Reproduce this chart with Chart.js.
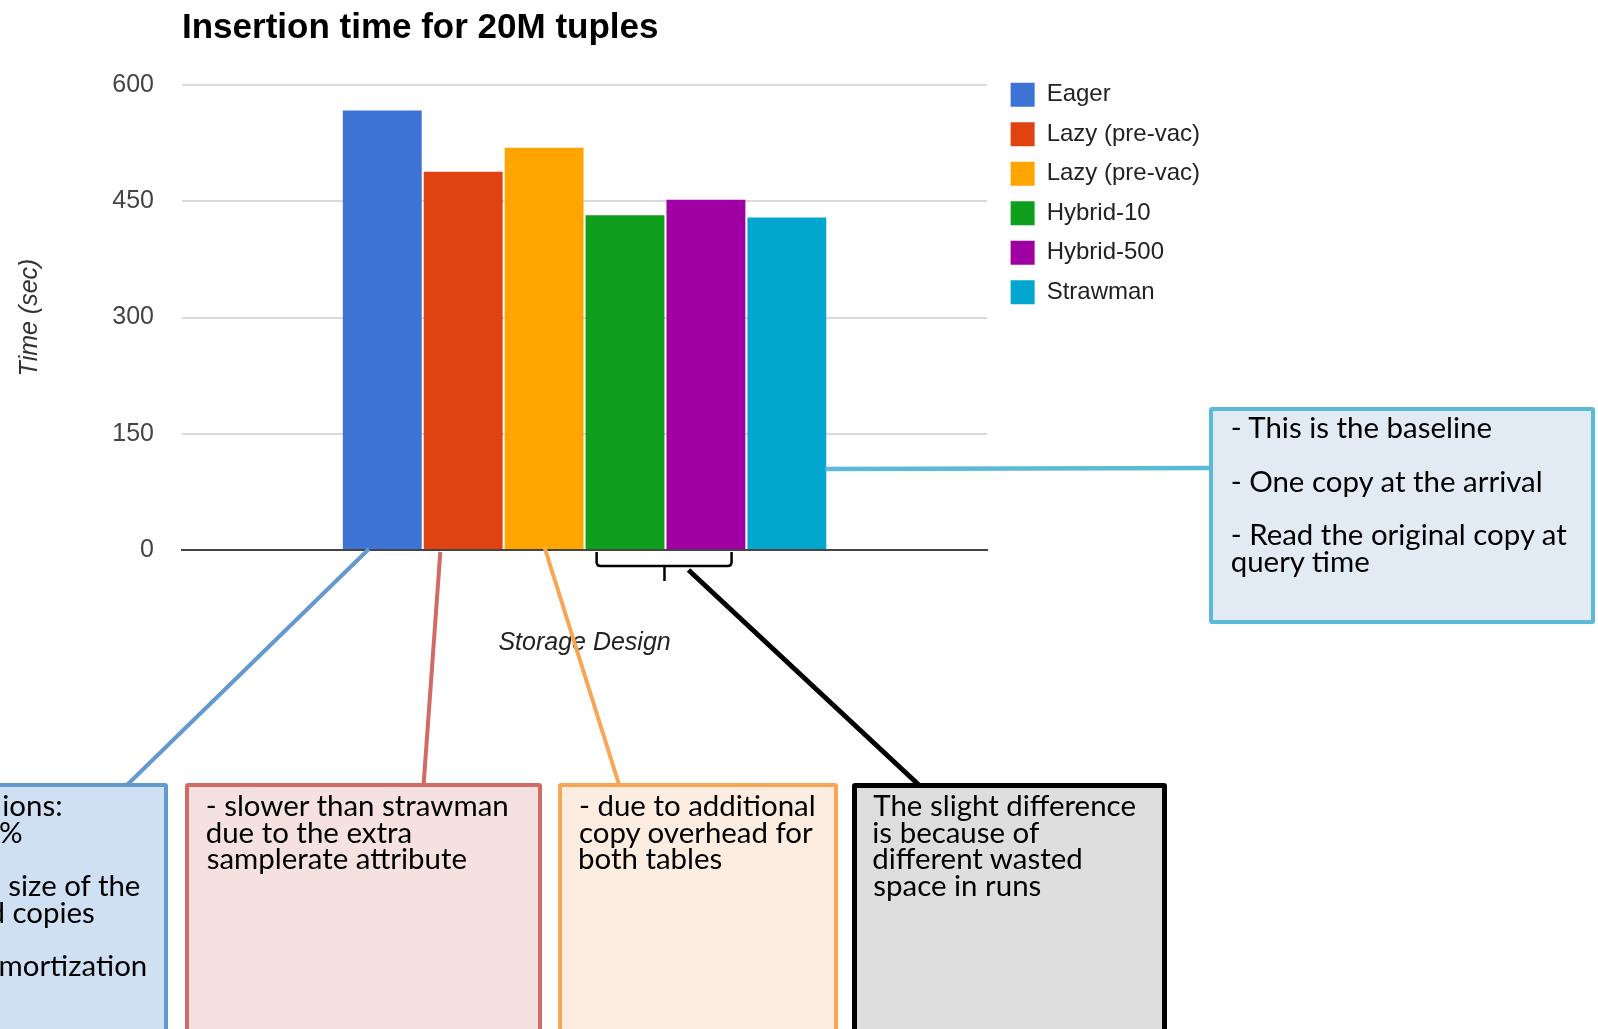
<!DOCTYPE html>
<html>
<head>
<meta charset="utf-8">
<script src="https://cdn.jsdelivr.net/npm/chart.js@4.4.0/dist/chart.umd.min.js"></script>
<style>
  html, body { margin: 0; padding: 0; background: #fff; overflow: hidden; }
  #page { position: relative; width: 1598px; height: 1029px; overflow: hidden; }
  #chart { position: absolute; left: 0; top: 0; }
  .note { position: absolute; box-sizing: border-box; border-style: solid; border-radius: 3px; }
  .note-line { position: absolute; font-family: Lato, sans-serif; color: #000; white-space: pre; }
</style>
</head>
<body>
<div id="page">
  <canvas id="chart" width="1598" height="1029"></canvas>
</div>
<script>
// data
const categories = [''];
const seriesNames = ['Eager', 'Lazy (pre-vac)', 'Lazy (pre-vac)', 'Hybrid-10', 'Hybrid-500', 'Strawman'];
const seriesValues = [567, 488, 519, 432, 452, 429];
const seriesColors = ['#3c73d5', '#e04211', '#ffa500', '#0f9f1c', '#a000a1', '#02a6ce'];
const yTicks = [0, 150, 300, 450, 600];

// callout boxes below / beside the chart
const notes = [
  { fill: '#cfe0f3', stroke: '#6399ce', bw: 4, box: [-300, 783.3, 468.3, 320], baseline: 816.7,
    lines: ['ions:', '%', '', 'size of the', 'd copies', '', 'mortization'],
    inkX: [3.3, 0, 0, 8.3, -10.5, 0, 0.5] },
  { fill: '#f4e1e0', stroke: '#d06b66', bw: 4, box: [185, 783.3, 356.7, 320], baseline: 816.7,
    lines: ['- slower than strawman', 'due to the extra', 'samplerate attribute'], inkX: 206.7 },
  { fill: '#fdede0', stroke: '#f9a654', bw: 4, box: [558.3, 783.3, 280, 320], baseline: 816.7,
    lines: ['- due to additional', 'copy overhead for', 'both tables'], inkX: 580 },
  { fill: '#dedede', stroke: '#000000', bw: 5, box: [851.7, 782.7, 315.6, 320], baseline: 816.7,
    lines: ['The slight difference', 'is because of', 'different wasted', 'space in runs'], inkX: 873.3 },
  { fill: '#e2eaf4', stroke: '#5bbad5', bw: 4.5, box: [1209.3, 406.7, 386, 217], baseline: 439.3,
    lines: ['- This is the baseline', '', '- One copy at the arrival', '', '- Read the original copy at', 'query time'], inkX: 1231.7 }
];
const noteLineHeight = 26.7;
const fitSamples = [['- slower than strawman', 306.7], ['- due to additional', 237.7], ['The slight difference', 263.4], ['- This is the baseline', 260], ['- One copy at the arrival', 311]];

Chart.defaults.font.family = "'Liberation Sans', Arial, sans-serif";

const callouts = {
  id: 'callouts',
  afterDraw(chart) {
    const ctx = chart.ctx;
    const bars = chart.data.datasets.map((d, i) => chart.getDatasetMeta(i).data[0].getProps(['x', 'base', 'width'], true));
    const base = bars[0].base;
    const line = (color, w, x0, y0, x1, y1) => {
      ctx.save();
      ctx.strokeStyle = color; ctx.lineWidth = w;
      ctx.beginPath(); ctx.moveTo(x0, y0); ctx.lineTo(x1, y1); ctx.stroke();
      ctx.restore();
    };
    line('#6399ce', 4, bars[0].x - bars[0].width * 0.17, base, 126, 786);
    line('#d06b66', 4, bars[1].x - bars[1].width * 0.29, base + 3, 423.5, 786);
    line('#f9a654', 4, bars[2].x, base - 3, 619.5, 786);

    // brace under the two hybrid bars
    const L = bars[3].x - bars[3].width * 0.36;
    const R = bars[4].x + bars[4].width * 0.325;
    const M = (bars[3].x + bars[3].width / 2 + bars[4].x - bars[4].width / 2) / 2 - 1;
    ctx.save();
    ctx.strokeStyle = '#000'; ctx.lineWidth = 2.5;
    ctx.beginPath();
    ctx.moveTo(L, base + 3); ctx.lineTo(L, base + 13);
    ctx.quadraticCurveTo(L, base + 17, L + 4, base + 17);
    ctx.lineTo(R - 4, base + 17);
    ctx.quadraticCurveTo(R, base + 17, R, base + 13);
    ctx.lineTo(R, base + 3);
    ctx.moveTo(M, base + 17); ctx.lineTo(M, base + 32);
    ctx.stroke();
    ctx.restore();
    line('#000', 5, M + 24, base + 21, 920, 786);

    line('#5bbad5', 4.5, bars[5].x + bars[5].width / 2 - 1, 469, 1212, 468);
  }
};

const chart = new Chart(document.getElementById('chart'), {
  type: 'bar',
  data: {
    labels: categories,
    datasets: seriesNames.map((name, i) => ({
      label: name,
      data: [seriesValues[i]],
      backgroundColor: seriesColors[i],
      borderWidth: 0,
      categoryPercentage: 0.603,
      barPercentage: 0.975
    }))
  },
  options: {
    responsive: false,
    animation: false,
    layout: { padding: { left: 0, top: 0, right: 388, bottom: 371 } },
    plugins: {
      title: {
        display: true, text: 'Insertion time for 20M tuples', align: 'start', fullSize: false,
        color: '#000', font: { size: 35, weight: 'bold' }, padding: { top: 7.5, bottom: 35.5 }
      },
      legend: {
        position: 'right', align: 'start', maxWidth: 320,
        title: { display: true, text: '', font: { size: 56 }, padding: 0 },
        labels: { boxWidth: 24, boxHeight: 24, padding: 15.5, color: '#222', font: { size: 24 } }
      },
      tooltip: { enabled: false }
    },
    scales: {
      x: {
        grid: { display: false, drawTicks: false },
        ticks: { display: false },
        border: { display: true, color: '#444', width: 2 },
        title: { display: true, text: 'Storage Design', color: '#222', font: { size: 25, style: 'italic' }, padding: { top: 78, bottom: 0 } }
      },
      y: {
        min: yTicks[0], max: yTicks[yTicks.length - 1],
        ticks: { stepSize: yTicks[1] - yTicks[0], color: '#444', font: { size: 25 }, padding: 28 },
        grid: { color: '#dadada', lineWidth: 2, drawTicks: false },
        border: { display: false },
        title: { display: true, text: 'Time (sec)', color: '#333', font: { size: 25, style: 'italic' }, padding: { top: 15, bottom: 0 } },
        afterFit(s) { s.width = 182; }
      },
      gap: {
        position: 'right',
        grid: { display: false }, ticks: { display: false }, border: { display: false },
        afterFit(s) { s.width = 8; }
      }
    }
  },
  plugins: [callouts]
});

// callout boxes as html text
const mctx = document.createElement('canvas').getContext('2d');
function measure(t, size) { mctx.font = size + 'px Lato'; return mctx.measureText(t); }
const noteFont = fitSamples.reduce((s, [t, w]) => s + 100 * w / measure(t, 100).width, 0) / fitSamples.length;
const fm = measure('Hg', noteFont);
const baseOffset = (noteLineHeight - (fm.fontBoundingBoxAscent + fm.fontBoundingBoxDescent)) / 2 + fm.fontBoundingBoxAscent;
const page = document.getElementById('page');
notes.forEach(n => {
  const b = document.createElement('div');
  b.className = 'note';
  b.style.cssText = `left:${n.box[0]}px;top:${n.box[1]}px;width:${n.box[2]}px;height:${n.box[3]}px;background:${n.fill};border-color:${n.stroke};border-width:${n.bw}px;`;
  page.appendChild(b);
});
notes.forEach(n => {
  n.lines.forEach((t, k) => {
    if (!t) return;
    const ink = Array.isArray(n.inkX) ? n.inkX[k] : n.inkX;
    const m = measure(t, noteFont);
    const el = document.createElement('div');
    el.className = 'note-line';
    el.textContent = t;
    el.style.cssText = `left:${ink + m.actualBoundingBoxLeft}px;top:${n.baseline + k * noteLineHeight - baseOffset}px;font-size:${noteFont}px;line-height:${noteLineHeight}px;`;
    page.appendChild(el);
  });
});
</script>
</body>
</html>
